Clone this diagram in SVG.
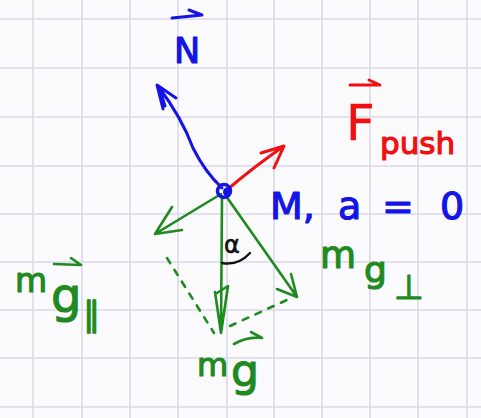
<svg xmlns="http://www.w3.org/2000/svg" width="481" height="418" viewBox="0 0 481 418">
<defs>
<style>
.grid{stroke:#dcd8ea;stroke-width:1.6}
.b{stroke:#1414e6;fill:none;stroke-width:3;stroke-linecap:round;stroke-linejoin:round}
.r{stroke:#f01010;fill:none;stroke-width:3;stroke-linecap:round;stroke-linejoin:round}
.g{stroke:#1f8a1f;fill:none;stroke-width:2.6;stroke-linecap:round;stroke-linejoin:round}
.d{stroke-dasharray:6 8}
.k{stroke:#111;fill:none;stroke-width:2.4;stroke-linecap:round}
text{font-family:"DejaVu Sans","Liberation Sans",sans-serif;stroke-width:1.2;stroke-linejoin:round}
.tb{fill:#1414e6;stroke:#1414e6}
.tr{fill:#f01010;stroke:#f01010}
.tg{fill:#1f8a1f;stroke:#1f8a1f}
.tk{fill:#111;stroke:#111;stroke-width:0.6}
</style>
</defs>
<rect width="481" height="418" fill="#fbfbfd"/>
<g id="grid" class="grid">
<line x1="33" y1="0" x2="33" y2="418"/><line x1="82" y1="0" x2="82" y2="418"/><line x1="130" y1="0" x2="130" y2="418"/><line x1="178" y1="0" x2="178" y2="418"/><line x1="227" y1="0" x2="227" y2="418"/><line x1="274" y1="0" x2="274" y2="418"/><line x1="322" y1="0" x2="322" y2="418"/><line x1="370" y1="0" x2="370" y2="418"/><line x1="418" y1="0" x2="418" y2="418"/><line x1="467" y1="0" x2="467" y2="418"/>
<line x1="0" y1="19" x2="481" y2="19"/><line x1="0" y1="68" x2="481" y2="68"/><line x1="0" y1="117" x2="481" y2="117"/><line x1="0" y1="166" x2="481" y2="166"/><line x1="0" y1="214" x2="481" y2="214"/><line x1="0" y1="262" x2="481" y2="262"/><line x1="0" y1="310" x2="481" y2="310"/><line x1="0" y1="358" x2="481" y2="358"/><line x1="0" y1="407" x2="481" y2="407"/>
</g>
<g id="connectors">
<path class="b" d="M222,188 Q205,172 193,148 Q182,118 158,86 M163,109 L157,85 L176,98 M160,90 L165,106"/>
<path class="r" d="M228,189 Q255,166 284,146 M261,153 L284,146 L274,168"/>
<path class="g" d="M221,194 L155,234 M172,207 L155,234 L182,230"/>
<path class="g" d="M222,196 L221,333 M215,292 L221,333 L228,286 L217,293"/>
<path class="g" d="M226,196 L297,297 M277,289 L297,297 L291,274"/>
<path class="g d" d="M167,258 L214,333"/>
<path class="g d" d="M230,326 L289,299"/>
<path class="k" d="M222,263 Q238,266 250,253"/>
</g>
<g id="mass">
<circle cx="224" cy="191" r="6.5" fill="none" stroke="#1414e6" stroke-width="3.5"/>
<ellipse cx="227" cy="192" rx="4" ry="4.5" fill="#1414e6"/>
</g>
<g id="label-N">
<text class="tb" x="174" y="63" font-size="35">N</text>
<path class="b" d="M172,18 L202,15 M189,10 L202,15"/>
</g>
<g id="label-Fpush">
<text class="tr" x="346" y="140" font-size="50" style="stroke-width:0.4">F</text>
<text class="tr" x="380" y="154" font-size="31">push</text>
<path class="r" d="M350,85 L380,85 M369,80 L380,85"/>
</g>
<g id="label-M">
<text class="tb" y="219" font-size="38"><tspan x="270">M,</tspan><tspan x="338">a</tspan><tspan x="382">=</tspan><tspan x="440">0</tspan></text>
</g>
<g id="label-mg-par">
<text class="tg" x="15" y="292" font-size="33">m</text>
<text class="tg" x="51" y="312" font-size="48">g</text>
<text class="tg" x="83" y="326" font-size="34">∥</text>
<path class="g" d="M54,264 L81,265 M71,258 L81,265"/>
</g>
<g id="label-mg-perp">
<text class="tg" x="320" y="268" font-size="37">m</text>
<text class="tg" x="364" y="282" font-size="36">g</text>
<text class="tg" x="394" y="299" font-size="34">⊥</text>
</g>
<g id="label-mg">
<text class="tg" x="197" y="376" font-size="32">m</text>
<text class="tg" x="231" y="386" font-size="44">g</text>
<path class="g" d="M234,344 Q248,336 262,338 M251,332 L262,338"/>
</g>
<g id="label-alpha">
<text class="tk" x="224" y="253" font-size="24">α</text>
</g>
</svg>
